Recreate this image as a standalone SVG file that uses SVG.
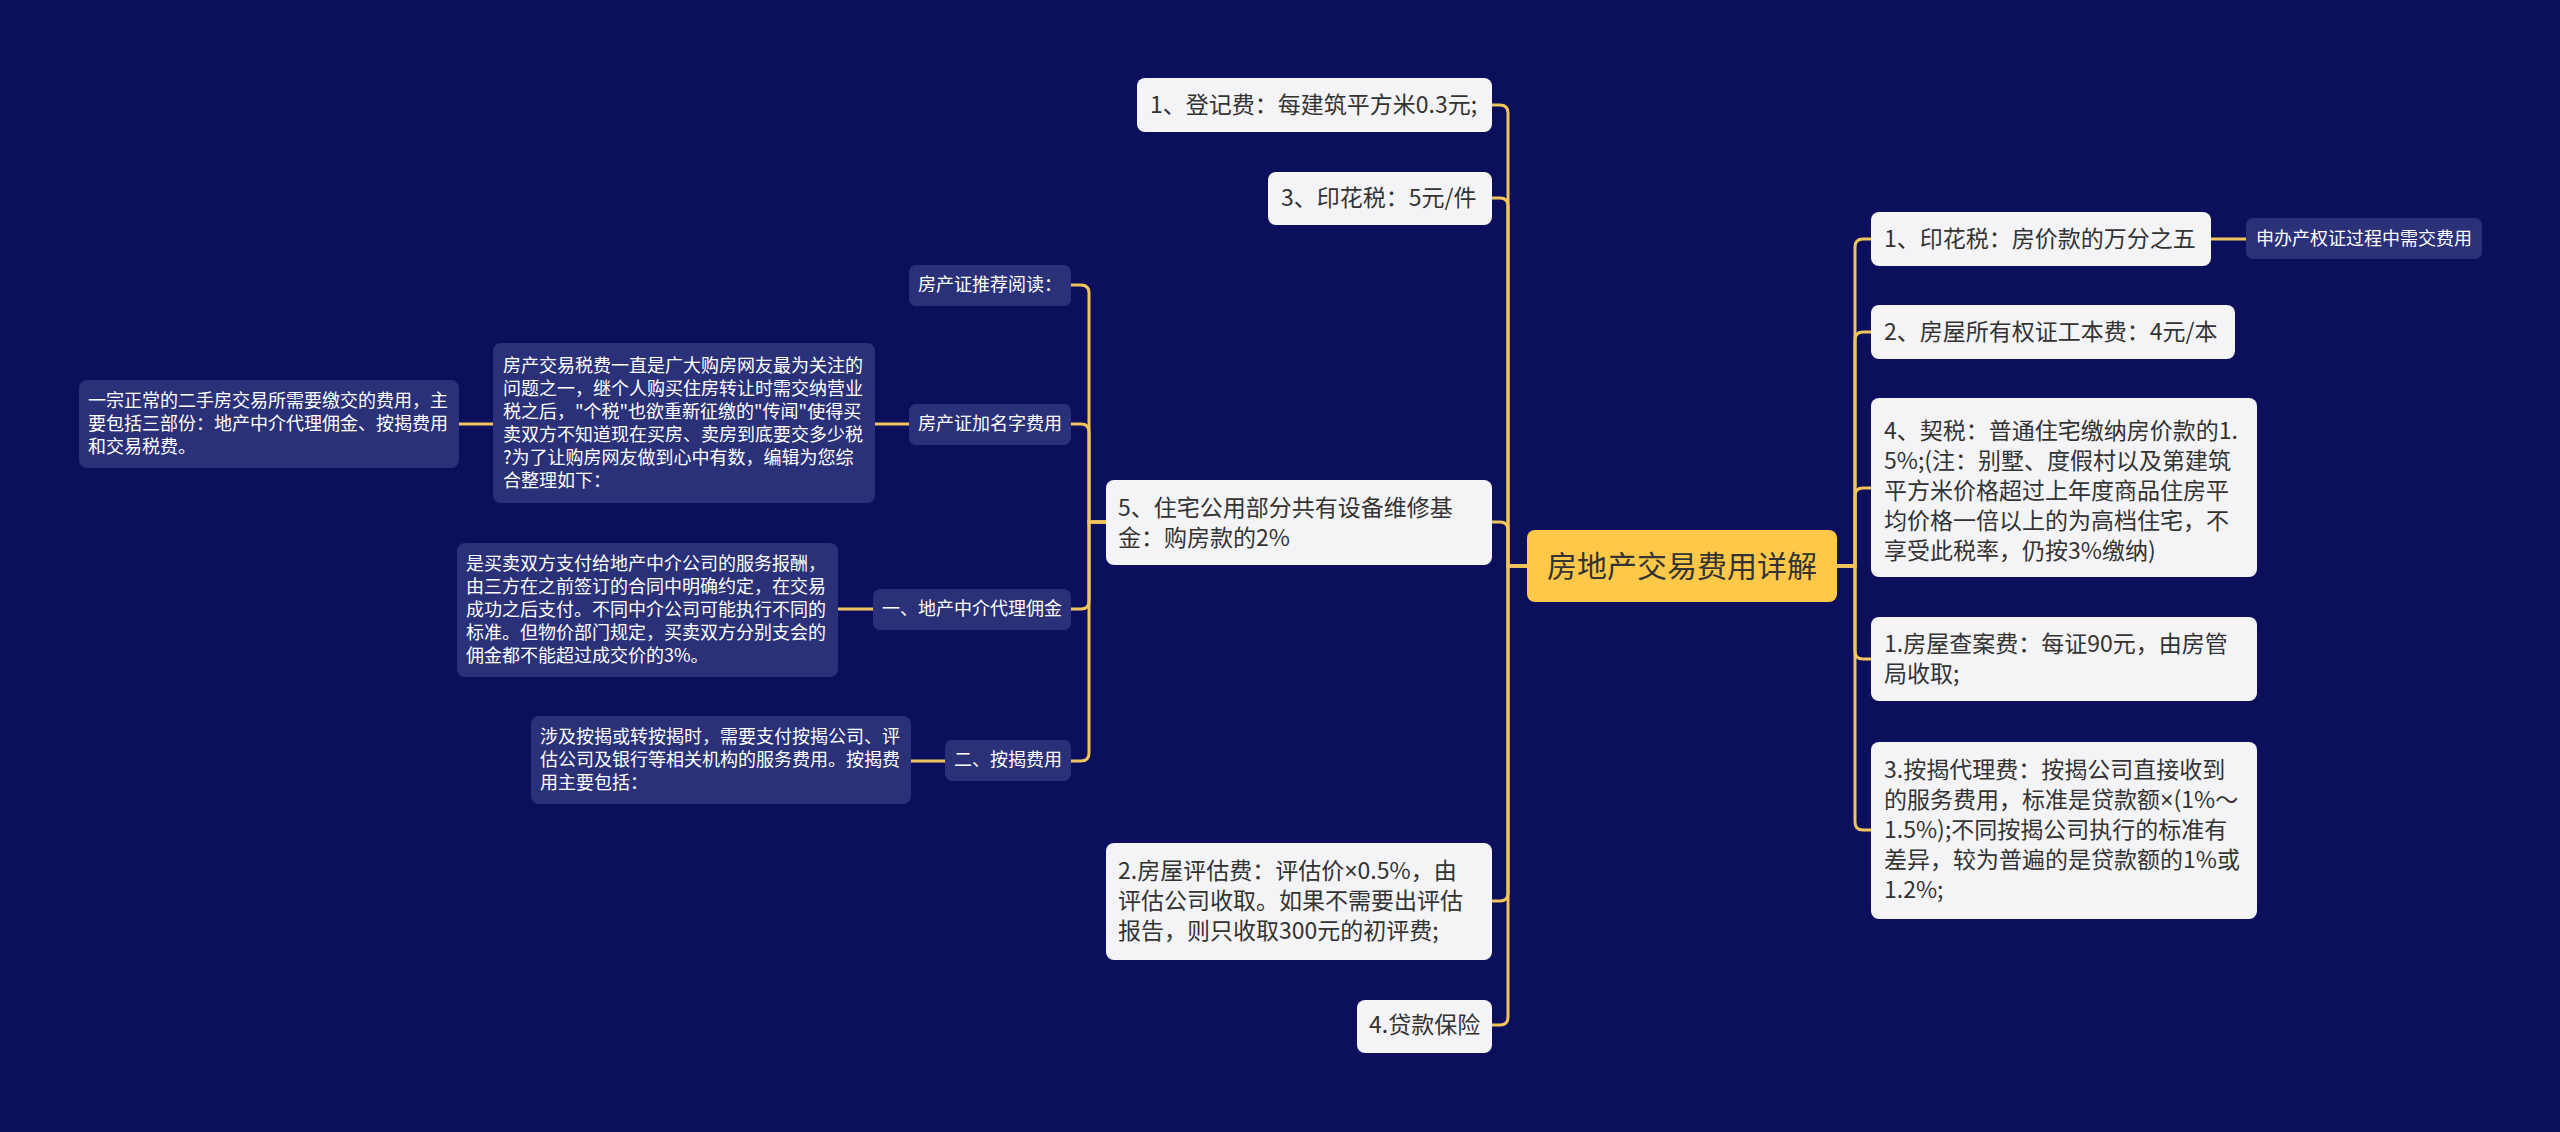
<svg xmlns="http://www.w3.org/2000/svg" width="2560" height="1132" viewBox="0 0 2560 1132">
<defs>
<style>
.bg{fill:#0B0F5C}
.w rect{fill:#F4F4F6}
.w text{font-family:"Noto Sans CJK SC","Noto Sans",sans-serif;font-size:23px;fill:#333333}
.d rect{fill:#2A3179}
.d text{font-family:"Noto Sans CJK SC","Noto Sans",sans-serif;font-size:18px;fill:#FFFFFF}
.c rect{fill:#FFC848}
.c text{font-family:"Noto Sans CJK SC","Noto Sans",sans-serif;font-size:30px;fill:#333333}
.lat{font-family:"Liberation Sans","Noto Sans",sans-serif}
.ln path{fill:none;stroke:#F2C55C;stroke-width:3;stroke-linecap:round}
</style>
</defs>
<rect class="bg" x="0" y="0" width="2560" height="1132"/>

<g id="connectors" class="ln">
<!-- left main -->
<path d="M1527 566 H1508 V113 Q1508 105 1500 105 H1492"/>
<path d="M1527 566 H1508 V206 Q1508 198 1500 198 H1492"/>
<path d="M1527 566 H1508 V530 Q1508 522 1500 522 H1492"/>
<path d="M1527 566 H1508 V893 Q1508 901 1500 901 H1492"/>
<path d="M1527 566 H1508 V1017 Q1508 1025 1500 1025 H1492"/>
<!-- right main -->
<path d="M1837 566 H1855 V247 Q1855 239 1863 239 H1871"/>
<path d="M1837 566 H1855 V340 Q1855 332 1863 332 H1871"/>
<path d="M1837 566 H1855 V496 Q1855 488 1863 488 H1871"/>
<path d="M1837 566 H1855 V651 Q1855 659 1863 659 H1871"/>
<path d="M1837 566 H1855 V822 Q1855 830 1863 830 H1871"/>
<path d="M2211 239 H2246"/>
<!-- sub left -->
<path d="M1106 522 H1089 V293 Q1089 285 1081 285 H1071"/>
<path d="M1106 522 H1089 V432 Q1089 424 1081 424 H1071"/>
<path d="M1106 522 H1089 V601 Q1089 609 1081 609 H1071"/>
<path d="M1106 522 H1089 V753 Q1089 761 1081 761 H1071"/>
<path d="M909 424 H875"/>
<path d="M493 424 H459"/>
<path d="M873 609 H838"/>
<path d="M945 761 H911"/>
</g>

<g id="center" class="c">
<rect x="1527" y="530" width="310" height="72" rx="8"/>
<text x="1682" y="577" text-anchor="middle">房地产交易费用详解</text>
</g>

<g id="n-dengji" class="w">
<rect x="1137" y="78" width="355" height="54" rx="8"/>
<text x="1150" y="113">1、登记费：每建筑平方米0.3元;</text>
</g>
<g id="n-yinhua5" class="w">
<rect x="1268" y="172" width="224" height="53" rx="8"/>
<text x="1281" y="206">3、印花税：5元/件</text>
</g>
<g id="n-weixiu" class="w">
<rect x="1106" y="480" width="386" height="85" rx="8"/>
<text x="1118" y="516">5、住宅公用部分共有设备维修基</text>
<text x="1118" y="546">金：购房款的2%</text>
</g>
<g id="n-pinggu" class="w">
<rect x="1106" y="843" width="386" height="117" rx="8"/>
<text x="1118" y="879">2.房屋评估费：评估价<tspan class="lat">×</tspan>0.5%，由</text>
<text x="1118" y="909">评估公司收取。如果不需要出评估</text>
<text x="1118" y="939">报告，则只收取300元的初评费;</text>
</g>
<g id="n-baoxian" class="w">
<rect x="1357" y="1000" width="135" height="53" rx="8"/>
<text x="1369" y="1033">4.贷款保险</text>
</g>

<g id="n-tuijian" class="d">
<rect x="909" y="265" width="162" height="41" rx="7"/>
<text x="918" y="291">房产证推荐阅读：</text>
</g>
<g id="n-jiaming" class="d">
<rect x="909" y="404" width="162" height="41" rx="7"/>
<text x="918" y="430">房产证加名字费用</text>
</g>
<g id="n-yongjin" class="d">
<rect x="873" y="589" width="198" height="41" rx="7"/>
<text x="882" y="615">一、地产中介代理佣金</text>
</g>
<g id="n-anjie" class="d">
<rect x="945" y="740" width="126" height="41" rx="7"/>
<text x="954" y="766">二、按揭费用</text>
</g>

<g id="n-shuifei" class="d">
<rect x="493" y="343" width="382" height="160" rx="8"/>
<text x="503" y="372">房产交易税费一直是广大购房网友最为关注的</text>
<text x="503" y="395">问题之一，继个人购买住房转让时需交纳营业</text>
<text x="503" y="418">税之后，"个税"也欲重新征缴的"传闻"使得买</text>
<text x="503" y="441">卖双方不知道现在买房、卖房到底要交多少税</text>
<text x="503" y="464">?为了让购房网友做到心中有数，编辑为您综</text>
<text x="503" y="487">合整理如下：</text>
</g>
<g id="n-yizong" class="d">
<rect x="79" y="380" width="380" height="88" rx="8"/>
<text x="88" y="407">一宗正常的二手房交易所需要缴交的费用，主</text>
<text x="88" y="430">要包括三部份：地产中介代理佣金、按揭费用</text>
<text x="88" y="453">和交易税费。</text>
</g>
<g id="n-baochou" class="d">
<rect x="457" y="543" width="381" height="134" rx="8"/>
<text x="466" y="570">是买卖双方支付给地产中介公司的服务报酬，</text>
<text x="466" y="593">由三方在之前签订的合同中明确约定，在交易</text>
<text x="466" y="616">成功之后支付。不同中介公司可能执行不同的</text>
<text x="466" y="639">标准。但物价部门规定，买卖双方分别支会的</text>
<text x="466" y="662">佣金都不能超过成交价的3%。</text>
</g>
<g id="n-sheji" class="d">
<rect x="531" y="716" width="380" height="88" rx="8"/>
<text x="540" y="743">涉及按揭或转按揭时，需要支付按揭公司、评</text>
<text x="540" y="766">估公司及银行等相关机构的服务费用。按揭费</text>
<text x="540" y="789">用主要包括：</text>
</g>

<g id="n-yinhua" class="w">
<rect x="1871" y="212" width="340" height="54" rx="8"/>
<text x="1884" y="247">1、印花税：房价款的万分之五</text>
</g>
<g id="n-shenban" class="d">
<rect x="2246" y="218" width="236" height="41" rx="7"/>
<text x="2256" y="245">申办产权证过程中需交费用</text>
</g>
<g id="n-gongben" class="w">
<rect x="1871" y="305" width="364" height="54" rx="8"/>
<text x="1884" y="340">2、房屋所有权证工本费：4元/本</text>
</g>
<g id="n-qishui" class="w">
<rect x="1871" y="398" width="386" height="179" rx="8"/>
<text x="1884" y="439">4、契税：普通住宅缴纳房价款的1.</text>
<text x="1884" y="469">5%;(注：别墅、度假村以及第建筑</text>
<text x="1884" y="499">平方米价格超过上年度商品住房平</text>
<text x="1884" y="529">均价格一倍以上的为高档住宅，不</text>
<text x="1884" y="559">享受此税率，仍按3%缴纳)</text>
</g>
<g id="n-chaan" class="w">
<rect x="1871" y="617" width="386" height="84" rx="8"/>
<text x="1884" y="652">1.房屋查案费：每证90元，由房管</text>
<text x="1884" y="682">局收取;</text>
</g>
<g id="n-daili" class="w">
<rect x="1871" y="742" width="386" height="177" rx="8"/>
<text x="1884" y="778">3.按揭代理费：按揭公司直接收到</text>
<text x="1884" y="808">的服务费用，标准是贷款额<tspan class="lat">×</tspan>(1%～</text>
<text x="1884" y="838">1.5%);不同按揭公司执行的标准有</text>
<text x="1884" y="868">差异，较为普遍的是贷款额的1%或</text>
<text x="1884" y="898">1.2%;</text>
</g>
</svg>
